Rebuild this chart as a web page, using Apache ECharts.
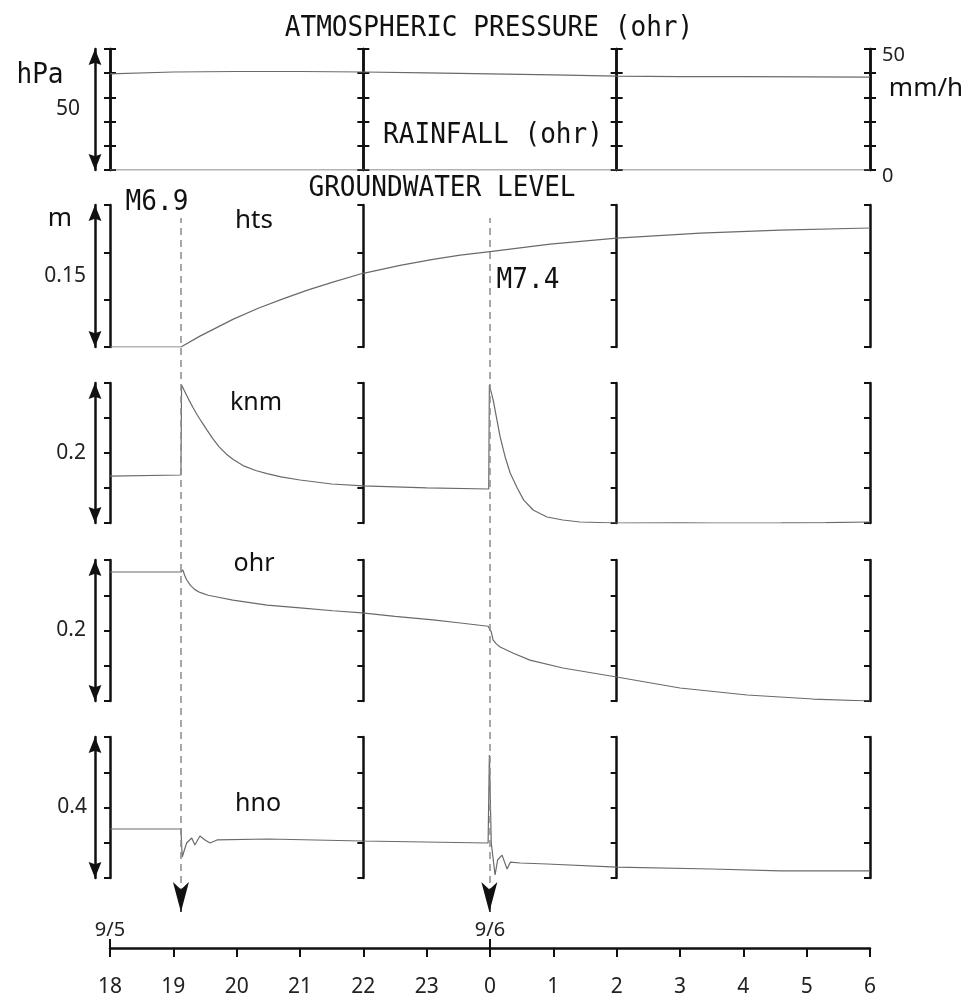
<!DOCTYPE html>
<html>
<head>
<meta charset="utf-8">
<script src="https://cdn.jsdelivr.net/npm/echarts@6/dist/echarts.min.js"></script>
<style>
html, body { margin: 0; padding: 0; background: #fff; }
#chart { width: 971px; height: 1004px; }
</style>
</head>
<body>
<div id="chart"></div>
<script>
// time axis: hours counted from 9/5 18:00
const hourLabels = ['18', '19', '20', '21', '22', '23', '0', '1', '2', '3', '4', '5', '6'];
const dateLabels = ['9/5', '9/6'];
const quakeT = [1.12, 5.99];

// atmospheric pressure (hPa) and rainfall (mm/h) at ohr
const pressT = [0, 1, 2, 3, 4, 5, 6, 7, 8, 9, 10, 11, 12];
const pressV = [1009.7, 1010.5, 1010.7, 1010.7, 1010.5, 1010.1, 1009.7, 1009.3, 1008.8, 1008.6, 1008.6, 1008.5, 1008.4];
const rainT = [0, 3, 6, 9, 12];
const rainV = [0, 0, 0, 0, 0];

// groundwater level (m), relative to panel bottom
const htsT = [0, 1.12, 1.137, 1.42, 1.94, 2.34, 2.73, 3.13, 3.52, 3.98, 4.58, 5.10, 5.53, 6.0, 6.95, 8.0, 9.32, 10.58, 12];
const htsV = [0, 0, -0.001, 0.0115, 0.0292, 0.041, 0.0508, 0.0603, 0.0685, 0.0776, 0.0862, 0.0925, 0.097, 0.1008, 0.1087, 0.115, 0.1202, 0.1234, 0.1257];

const knmT = [0, 1.12, 1.13, 1.18, 1.24, 1.31, 1.38, 1.45, 1.53, 1.62, 1.72, 1.83, 1.94, 2.1, 2.3, 2.48, 2.7, 3.0, 3.5, 4.0, 5.0, 5.98,
    5.99, 6.05, 6.11, 6.16, 6.24, 6.32, 6.43, 6.53, 6.68, 6.9, 7.15, 7.42, 8.0, 9.0, 9.5, 10.6, 11.3, 12];
const knmV = [0.067, 0.0686, 0.197, 0.188, 0.177, 0.165, 0.154, 0.144, 0.133, 0.121, 0.109, 0.099, 0.091, 0.082, 0.075, 0.0705, 0.066, 0.0614, 0.0557, 0.0529, 0.0502, 0.0486,
    0.197, 0.176, 0.147, 0.123, 0.094, 0.071, 0.05, 0.033, 0.0186, 0.0086, 0.0043, 0.0014, 0, 0.0003, 0, 0.0002, 0.0004, 0.0014];

const ohrT = [0, 1.12, 1.15, 1.18, 1.21, 1.27, 1.34, 1.42, 1.55, 1.69, 1.94, 2.48, 3.0, 3.52, 3.98, 4.5, 5.10, 5.5, 5.97,
    5.99, 6.02, 6.05, 6.1, 6.16, 6.36, 6.63, 7.15, 8.0, 9.0, 10.06, 11.1, 12];
const ohrV = [0.183, 0.183, 0.186, 0.178, 0.172, 0.164, 0.158, 0.154, 0.150, 0.1475, 0.143, 0.136, 0.132, 0.128, 0.125, 0.12, 0.115, 0.111, 0.106,
    0.108, 0.098, 0.0865, 0.081, 0.0766, 0.068, 0.058, 0.0468, 0.034, 0.0184, 0.0085, 0.0028, 0];

const hnoT = [0, 1.12, 1.14, 1.21, 1.29, 1.34, 1.42, 1.5, 1.58, 1.69, 2.5, 3.98, 5.97, 5.99, 6.02, 6.08, 6.12, 6.19, 6.27, 6.32, 6.48, 6.9, 8.0, 9.5, 10.58, 12];
const hnoV = [0.139, 0.139, 0.0596, 0.0993, 0.1135, 0.0936, 0.119, 0.108, 0.0993, 0.108, 0.1106, 0.105, 0.0993, 0.349, 0.0993, 0.0085, 0.051, 0.065, 0.0255, 0.045, 0.0426, 0.0397, 0.031, 0.0255, 0.02, 0.02];

const zip = (t, v) => t.map((x, i) => [x, v[i]]);

const chart = echarts.init(document.getElementById('chart'));

const PX_H = 760 / 12;
const INK = '#111';
const ARROW = 'path://M6,0 L12,15 L6,13 L0,15 Z';
const grid = [], xAxis = [], yAxis = [], series = [];

function addGrid(top, height) {
    grid.push({ left: 110, width: 760, top: top, height: height, outerBoundsMode: 'none' });
    return grid.length - 1;
}
function addX(gi, o) {
    xAxis.push(Object.assign({ type: 'value', gridIndex: gi, min: 0, max: 12, show: false }, o || {}));
    return xAxis.length - 1;
}
function addY(gi, o) {
    yAxis.push(Object.assign({
        type: 'value', gridIndex: gi, splitLine: { show: false }, axisLabel: { show: false }
    }, o));
    return yAxis.length - 1;
}
function bracketAxis(gi, min, max, interval, position, offset, inside, label) {
    return addY(gi, {
        min: min, max: max, interval: interval, position: position, offset: offset,
        axisLine: { show: true, onZero: false, lineStyle: { color: INK, width: 2.5 } },
        axisTick: { show: true, inside: inside, length: 6, lineStyle: { color: INK, width: 2 } },
        axisLabel: label || { show: false }
    });
}
// "]" brackets at 18h, 22h, 2h and 6h
function brackets(gi, min, max, interval) {
    const first = bracketAxis(gi, min, max, interval, 'left', 0, false);
    bracketAxis(gi, min, max, interval, 'left', -4 * PX_H, false);
    bracketAxis(gi, min, max, interval, 'left', -8 * PX_H, false);
    bracketAxis(gi, min, max, interval, 'right', 0, true);
    return first;
}
// double-headed scale arrow on the left with its span label
function scaleArrow(gi, name, gap) {
    addY(gi, {
        min: 0, max: 1, position: 'left', offset: 15,
        name: name, nameLocation: 'middle', nameGap: gap, nameRotate: 0,
        nameTextStyle: { fontFamily: 'Noto Sans', fontSize: 21, color: '#222' },
        axisTick: { show: false },
        axisLine: {
            show: true, onZero: false, symbol: [ARROW, ARROW], symbolSize: [15, 16], symbolOffset: [8, -8],
            lineStyle: { color: INK, width: 2.5 }
        }
    });
}
function lineSeries(name, xi, yi, t, v) {
    series.push({
        name: name, type: 'line', xAxisIndex: xi, yAxisIndex: yi, data: zip(t, v),
        showSymbol: false, symbol: 'none', silent: true,
        lineStyle: { color: '#6a6a6a', width: 1.2 }
    });
}

// top panel: pressure + rainfall
const g0 = addGrid(49, 121);
const x0 = addX(g0);
const yPress = bracketAxis(g0, 970, 1020, 10, 'left', 0, false);
bracketAxis(g0, 970, 1020, 10, 'left', 0, true);
[-4 * PX_H, -8 * PX_H].forEach(function (off) {
    bracketAxis(g0, 0, 50, 10, 'left', off, false);
    bracketAxis(g0, 0, 50, 10, 'left', off, true);
});
const yRain = bracketAxis(g0, 0, 50, 10, 'right', 0, false, {
    show: true, margin: 12, fontFamily: 'Noto Sans', fontSize: 20, color: '#222',
    verticalAlign: 'top', lineHeight: 12,
    formatter: function (v) { return (v === 0 || v === 50) ? String(v) : ''; }
});
bracketAxis(g0, 0, 50, 10, 'right', 0, true);
scaleArrow(g0, '50', 15);
lineSeries('pressure', x0, yPress, pressT, pressV);
lineSeries('rainfall', x0, yRain, rainT, rainV);

// groundwater panels
const panels = [
    { name: 'hts', top: 205, height: 142, max: 0.15, interval: 0.05, span: '0.15', gap: 9, t: htsT, v: htsV },
    { name: 'knm', top: 383, height: 140, max: 0.2, interval: 0.05, span: '0.2', gap: 9, t: knmT, v: knmV },
    { name: 'ohr', top: 560, height: 141, max: 0.2, interval: 0.05, span: '0.2', gap: 9, t: ohrT, v: ohrV },
    { name: 'hno', top: 737, height: 141, max: 0.4, interval: 0.1, span: '0.4', gap: 8, t: hnoT, v: hnoV }
];
panels.forEach(function (p) {
    const gi = addGrid(p.top, p.height);
    const xi = addX(gi);
    const yi = brackets(gi, 0, p.max, p.interval);
    scaleArrow(gi, p.span, p.gap);
    lineSeries(p.name, xi, yi, p.t, p.v);
});

// earthquake markers: dashed lines and arrow heads
const gDash = addGrid(218, 677);
const xDash = addX(gDash);
const yDash = addY(gDash, { min: 0, max: 1, show: false });
series.push({
    type: 'line', xAxisIndex: xDash, yAxisIndex: yDash, data: [], silent: true,
    markLine: {
        silent: true, symbol: ['none', 'none'], label: { show: false },
        lineStyle: { type: [7, 5], color: '#8a8a8a', width: 1.5 },
        data: quakeT.map(function (t) { return { xAxis: t }; })
    }
});
const gHead = addGrid(904, 8);
const xHead = addX(gHead);
const yHead = addY(gHead, { min: 0, max: 1, show: false });
series.push({
    type: 'line', xAxisIndex: xHead, yAxisIndex: yHead, data: [], silent: true,
    markLine: {
        silent: true, symbol: ['arrow', 'none'], symbolSize: [12, 30], label: { show: false },
        lineStyle: { type: 'solid', color: INK, width: 1.5 },
        data: quakeT.map(function (t) { return { xAxis: t }; })
    }
});

// time axis at the bottom
const gTime = addGrid(947, 1);
addY(gTime, { min: 0, max: 1, show: false });
addX(gTime, {
    show: true, interval: 1, position: 'bottom',
    axisLine: { show: true, onZero: false, lineStyle: { color: INK, width: 2.5 } },
    axisTick: { show: true, length: 9, lineStyle: { color: INK, width: 2 } },
    axisLabel: {
        show: true, margin: 29, fontFamily: 'Noto Sans', fontSize: 21, color: '#222',
        formatter: function (v) { return hourLabels[Math.round(v)]; }
    },
    splitLine: { show: false }
});
addX(gTime, {
    show: true, position: 'bottom',
    axisLine: { show: false, onZero: false },
    axisTick: { show: true, inside: true, length: 9, customValues: [0, 6], lineStyle: { color: INK, width: 2 } },
    axisLabel: {
        show: true, inside: true, margin: 8, customValues: [0, 6], fontFamily: 'Noto Sans', fontSize: 20, color: '#222',
        formatter: function (v) { return dateLabels[Math.round(v / 6)]; }
    },
    splitLine: { show: false }
});

// text annotations
function gothic(text, x, y) {
    return {
        type: 'text', x: x, y: y, scaleX: 0.9, silent: true,
        style: { text: text, fontFamily: 'DejaVu Sans Mono', fontSize: 29, fill: INK, align: 'center', verticalAlign: 'middle' }
    };
}
function sans(text, x, y, size) {
    return {
        type: 'text', x: x, y: y, silent: true,
        style: { text: text, fontFamily: 'Noto Sans', fontSize: size, fill: INK, align: 'center', verticalAlign: 'middle' }
    };
}

const graphic = [
    gothic('ATMOSPHERIC PRESSURE (ohr)', 489, 28),
    gothic('RAINFALL (ohr)', 493, 135),
    gothic('GROUNDWATER LEVEL', 442, 188),
    gothic('M6.9', 157, 202),
    gothic('M7.4', 528, 280),
    gothic('hPa', 40, 75),
    sans('mm/h', 926, 89, 26),
    sans('m', 60, 219, 26),
    sans('hts', 254, 221, 26),
    sans('knm', 256, 403, 25),
    sans('ohr', 254, 564, 25),
    sans('hno', 258, 804, 25)
];

chart.setOption({
    animation: false,
    backgroundColor: '#fff',
    grid: grid,
    xAxis: xAxis,
    yAxis: yAxis,
    series: series,
    graphic: graphic
});
</script>
</body>
</html>
